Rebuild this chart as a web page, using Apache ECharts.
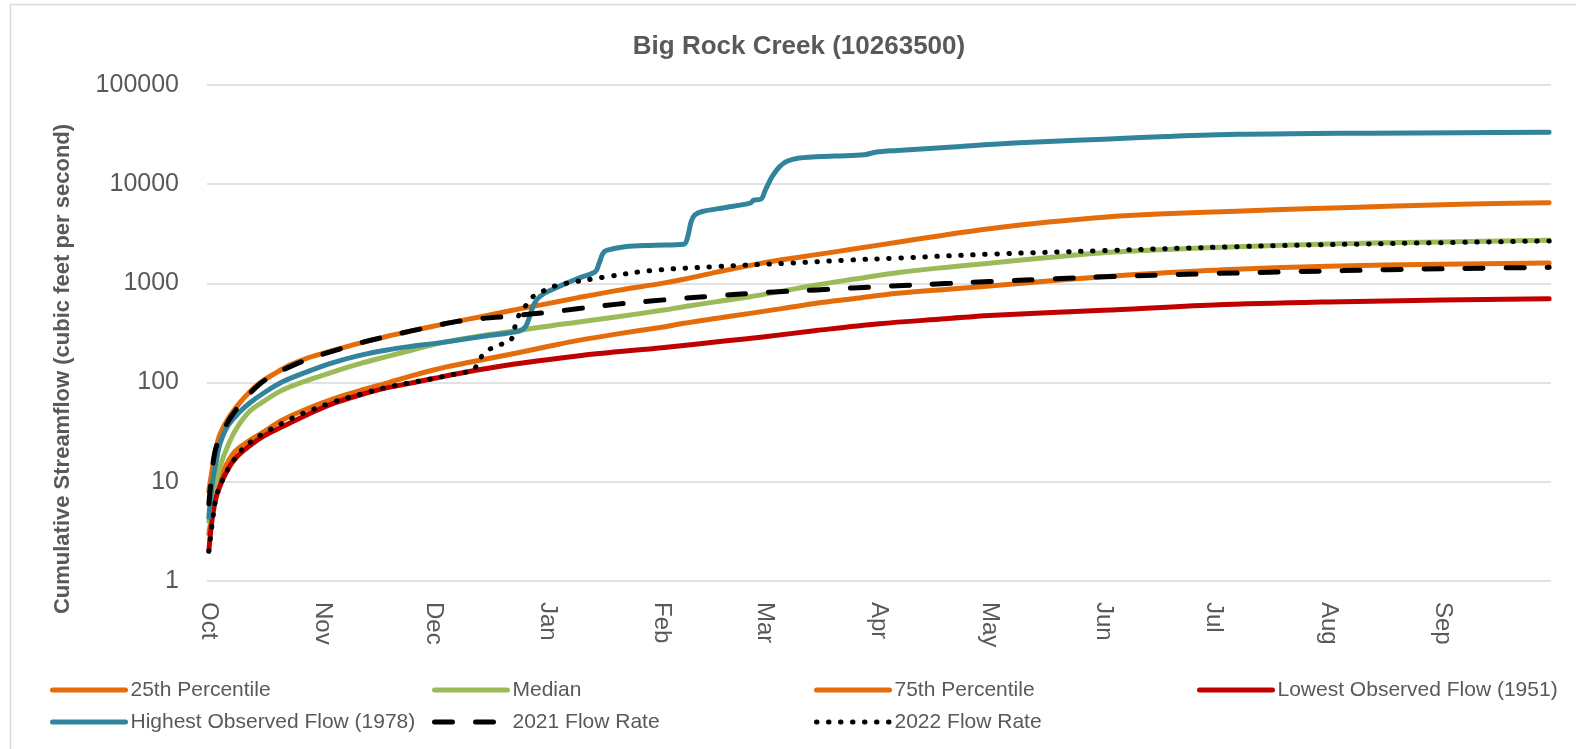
<!DOCTYPE html>
<html>
<head>
<meta charset="utf-8">
<script src="https://cdn.jsdelivr.net/npm/echarts@6/dist/echarts.min.js"></script>
<style>html,body{margin:0;padding:0;background:#fff}#chart{width:1576px;height:749px}</style>
</head>
<body>
<div id="chart"></div>
<script>
// ---- data (day index from Oct 1, cumulative streamflow) ----
const monthTicks = [0, 31, 61, 92, 123, 151, 182, 212, 243, 273, 304, 335];
const monthLabels = ['Oct', 'Nov', 'Dec', 'Jan', 'Feb', 'Mar', 'Apr', 'May', 'Jun', 'Jul', 'Aug', 'Sep'];
const yTickLabels = ['1', '10', '100', '1000', '10000', '100000'];

const p25 = [[0,3],[1,5],[2,7.7],[4,13],[7,20],[11,26],[15,32],[20,42],[27,55],[34,69],[41,83],[48,98],[55,117],[61,134],[66,148],[75,172],[84,200],[93,235],[100,265],[111,310],[123,362],[129,396],[138,445],[147,499],[156,560],[165,630],[175,700],[187,795],[200,870],[212,940],[228,1060],[243,1170],[260,1280],[279,1390],[304,1490],[335,1560],[364,1607]];
const median = [[0,4],[1,7],[2,10.4],[4,18],[7,32],[11,51],[15,65],[20,84],[27,106],[34,129],[41,155],[48,182],[55,212],[61,242],[66,264],[75,300],[84,335],[93,375],[100,405],[111,461],[123,535],[129,582],[138,655],[147,734],[156,840],[165,964],[175,1100],[187,1282],[200,1450],[212,1600],[228,1820],[243,2040],[260,2200],[279,2340],[304,2500],[335,2620],[364,2715]];
const p75 = [[0,8],[1,14],[2,22],[3,30],[5,42],[8,60],[11,80],[14,100],[18,124],[22,150],[27,178],[33,207],[41,250],[48,290],[55,332],[61,370],[66,405],[75,470],[84,550],[92,625],[100,715],[111,850],[123,1000],[129,1100],[138,1300],[147,1520],[156,1740],[165,1950],[175,2220],[187,2600],[200,3080],[212,3550],[228,4150],[243,4650],[258,5000],[279,5350],[300,5680],[320,5980],[340,6270],[364,6520]];
const lowest = [[0,2],[1,4.5],[2,7],[3,9],[4,11],[6,15],[8,18.5],[11,23],[15,29],[20,36],[27,48],[34,62],[41,75],[48,88],[55,99],[61,110],[70,128],[80,148],[93,172],[106,196],[123,225],[140,262],[151,290],[165,335],[182,392],[200,440],[212,475],[243,535],[273,605],[304,650],[335,680],[364,701]];
const highest = [[0,4.4],[1,10],[2,16],[3,24],[5,36],[8,49],[11,62],[15,79],[20,102],[27,130],[34,160],[41,188],[48,212],[55,232],[61,247],[66,262],[75,295],[84,328],[86,366],[87,450],[88,580],[89,680],[91,790],[93,860],[97,1000],[101,1150],[105,1320],[106,1600],[107,2000],[108,2150],[113,2340],[121,2420],[129,2480],[130,2900],[131,4200],[132,4900],[134,5300],[140,5800],[147,6440],[148,6900],[150,7100],[151,8500],[152,10200],[153,12000],[155,15000],[157,17000],[160,18300],[170,19200],[178,19800],[181,21000],[187,21900],[200,23500],[212,25200],[228,27000],[243,28400],[260,30200],[279,31800],[300,32400],[315,32700],[340,33100],[364,33400]];
const flow2021 = [[0,6],[1,14],[2,22.5],[4,33],[6,45],[10,70],[14,98],[18,122],[23,150],[28,178],[33,204],[41,250],[48,290],[55,332],[61,370],[66,405],[72,435],[79,458],[86,485],[93,515],[100,555],[111,618],[120,665],[129,707],[138,750],[147,792],[156,828],[165,860],[175,900],[185,940],[200,995],[212,1045],[228,1105],[243,1165],[270,1250],[296,1315],[320,1375],[340,1415],[364,1451]];
const flow2022 = [[0,2],[1,4],[2,7],[4,11],[6,15],[8,19],[10,23],[15,31],[20,39],[25,48],[34,64],[41,76],[48,89],[55,100],[61,110],[66,120],[70,128],[72,135],[73,160],[74,182],[76,214],[79,240],[82,268],[83,352],[84,460],[86,592],[88,734],[91,844],[94,942],[97,1000],[107,1150],[120,1345],[138,1480],[156,1590],[174,1720],[187,1800],[212,1970],[243,2140],[279,2345],[315,2500],[364,2680]];

const FONT = '"Liberation Sans", Arial, sans-serif';
const GREY = '#595959';
const ORANGE = '#E46C0A', GREEN = '#9BBB59', TEAL = '#31849B', RED = '#C00000', BLACK = '#000000';

function mk(name, data, color, extra) {
  return Object.assign({
    name: name, type: 'line', data: data, showSymbol: false, symbol: 'none',
    smooth: 0.35, animation: false,
    itemStyle: { color: color },
    lineStyle: { color: color, width: 5, cap: 'round', join: 'round' }
  }, extra || {});
}

const legendItems = [
  { name: '25th Percentile', left: 50, top: 678 },
  { name: 'Median', left: 432, top: 678 },
  { name: '75th Percentile', left: 814, top: 678 },
  { name: 'Lowest Observed Flow (1951)', left: 1197, top: 678 },
  { name: 'Highest Observed Flow (1978)', left: 50, top: 710 },
  { name: '2021 Flow Rate', left: 432, top: 710 },
  { name: '2022 Flow Rate', left: 814, top: 710 }
];

const chart = echarts.init(document.getElementById('chart'), null, { renderer: 'canvas' });
chart.setOption({
  backgroundColor: '#fff',
  animation: false,
  title: {
    text: 'Big Rock Creek (10263500)', left: 794, top: 29, textAlign: 'center',
    textStyle: { fontFamily: FONT, fontSize: 26, fontWeight: 'bold', color: GREY }
  },
  grid: { left: 207, top: 85, width: 1344, height: 496, containLabel: false },
  xAxis: {
    type: 'value', min: -0.5, max: 364.5,
    axisLine: { show: false }, axisTick: { show: false }, splitLine: { show: false },
    axisLabel: {
      customValues: monthTicks,
      formatter: function (v) { const i = monthTicks.indexOf(Math.round(v)); return i >= 0 ? monthLabels[i] : ''; },
      rotate: -90, margin: 21, fontSize: 24, color: GREY, fontFamily: FONT
    }
  },
  yAxis: {
    type: 'log', logBase: 10, min: 1, max: 100000,
    axisLine: { show: false }, axisTick: { show: false },
    splitLine: { show: true, lineStyle: { color: '#d9d9d9', width: 1.5 } },
    axisLabel: {
      formatter: function (v) { const i = Math.round(Math.log10(v)); return yTickLabels[i] || ''; },
      fontSize: 25, margin: 28, color: GREY, fontFamily: FONT
    }
  },
  legend: legendItems.map(function (it) {
    return {
      left: it.left, top: it.top, padding: 0, itemWidth: 73, itemHeight: 24, itemGap: 0,
      data: [it.name], selectedMode: false,
      itemStyle: { opacity: 0 },
      lineStyle: { width: 5, cap: 'round' },
      textStyle: { fontFamily: FONT, fontSize: 21, color: GREY, lineHeight: 24 }
    };
  }),
  graphic: [
    { type: 'rect', shape: { x: 10.5, y: 4.5, width: 1580, height: 760 }, style: { fill: 'none', stroke: '#d9d9d9', lineWidth: 1.5 }, silent: true, z: -1 },
    { type: 'text', x: 63, y: 369, rotation: Math.PI / 2,
      style: { text: 'Cumulative Streamflow (cubic feet per second)', fontFamily: FONT, fontSize: 22, fontWeight: 'bold', fill: GREY, align: 'center', verticalAlign: 'middle' } }
  ],
  series: [
    mk('25th Percentile', p25, ORANGE),
    mk('Median', median, GREEN),
    mk('75th Percentile', p75, ORANGE),
    mk('Lowest Observed Flow (1951)', lowest, RED),
    mk('Highest Observed Flow (1978)', highest, TEAL),
    mk('2021 Flow Rate', flow2021, BLACK, { lineStyle: { color: BLACK, width: 5, type: [18, 23], cap: 'round', join: 'round' } }),
    mk('2022 Flow Rate', flow2022, BLACK, { lineStyle: { color: BLACK, width: 5, type: [0.5, 11.5], cap: 'round', join: 'round' } })
  ]
});
</script>
</body>
</html>
